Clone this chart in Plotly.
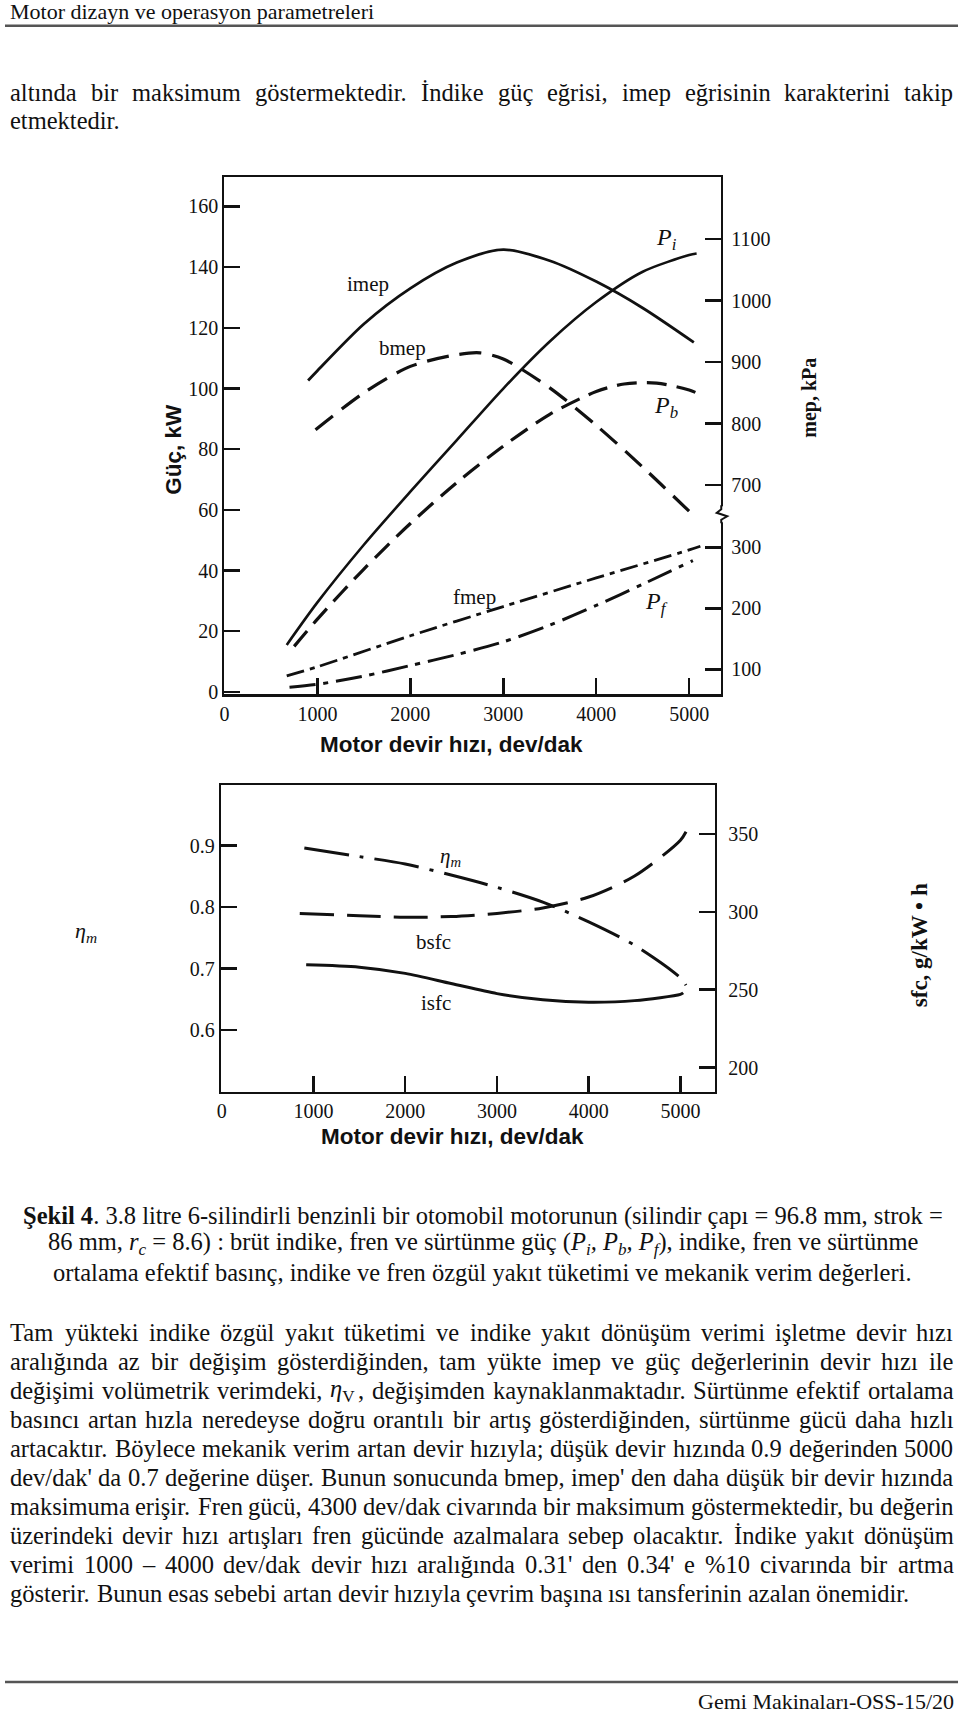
import plotly.graph_objects as go

# ---------------- data ----------------
rpm_Pi = [670, 1000, 1500, 2000, 2500, 3000, 3500, 4000, 4500, 5000, 5080]
Pi_kW = [15.5, 29.5, 48.5, 66, 83, 100, 115.5, 128.5, 138.5, 144, 144.5]

rpm_Pb = [750, 1000, 1500, 2000, 2500, 3000, 3500, 4000, 4300, 4650, 5000, 5100]
Pb_kW = [15, 24, 40.5, 55.5, 69, 81, 91.5, 99, 101.5, 101.8, 99.5, 98.3]

rpm_Pf = [700, 1000, 1500, 2000, 2500, 3000, 3500, 4000, 4500, 5040]
Pf_kW = [1.5, 2.5, 5.2, 8.7, 12.3, 16.5, 22, 28.5, 35.5, 43.3]

rpm_imep = [900, 1000, 1500, 2000, 2500, 3000, 3500, 4000, 4500, 5050]
imep_kPa = [870, 886, 962, 1020, 1062, 1083, 1065, 1031, 988, 932]

rpm_bmep = [980, 1500, 2000, 2500, 2750, 3000, 3500, 4000, 4500, 5035]
bmep_kPa = [790, 850, 893, 912, 915, 905, 858, 797, 729, 652]

rpm_fmep = [670, 1000, 2000, 3000, 4000, 5000, 5120]
fmep_kPa = [89, 104, 155, 203, 250, 296, 302]

rpm_eta = [900, 1500, 2000, 2500, 3000, 3500, 4000, 4500, 5000, 5060]
eta_m = [0.896, 0.882, 0.870, 0.852, 0.832, 0.808, 0.776, 0.738, 0.685, 0.673]

rpm_bsfc = [850, 1500, 2000, 2500, 3000, 3500, 4000, 4500, 5000, 5075]
bsfc = [299, 297.5, 296.5, 297, 299, 302.5, 309.5, 323, 346, 353]

rpm_isfc = [920, 1500, 2000, 2500, 3000, 3500, 4000, 4500, 5000, 5030]
isfc = [266, 264.5, 260.5, 254, 247.5, 243.5, 242, 243, 247, 248]

rpm_ticks = [0, 1000, 2000, 3000, 4000, 5000]
kW_ticks = [0, 20, 40, 60, 80, 100, 120, 140, 160]
mep_upper_ticks = [700, 800, 900, 1000, 1100]
mep_lower_ticks = [100, 200, 300]
eta_ticks = [0.6, 0.7, 0.8, 0.9]
sfc_ticks = [200, 250, 300, 350]

header_text = "Motor dizayn ve operasyon parametreleri"
footer_text = "Gemi Makinaları-OSS-15/20"
top_lines = [
    "altında bir maksimum göstermektedir. İndike güç eğrisi, imep eğrisinin karakterini takip",
    "etmektedir.",
]
caption_lines = [
    "<b>Şekil 4</b>. 3.8 litre 6-silindirli benzinli bir otomobil motorunun (silindir çapı = 96.8 mm, strok =",
    "86 mm, <i>r<sub>c</sub></i> = 8.6) : brüt indike, fren ve sürtünme güç (<i>P<sub>i</sub>, P<sub>b</sub>, P<sub>f</sub></i>), indike, fren ve sürtünme",
    "ortalama efektif basınç, indike ve fren özgül yakıt tüketimi ve mekanik verim değerleri.",
]
body_lines = [
    "Tam yükteki indike özgül yakıt tüketimi ve indike yakıt dönüşüm verimi işletme devir hızı",
    "aralığında az bir değişim gösterdiğinden, tam yükte imep ve güç değerlerinin devir hızı ile",
    "değişimi volümetrik verimdeki, ηV , değişimden kaynaklanmaktadır. Sürtünme efektif ortalama",
    "basıncı artan hızla neredeyse doğru orantılı bir artış gösterdiğinden, sürtünme gücü daha hızlı",
    "artacaktır. Böylece mekanik verim artan devir hızıyla; düşük devir hızında 0.9 değerinden 5000",
    "dev/dak' da 0.7 değerine düşer. Bunun sonucunda bmep, imep' den daha düşük bir devir hızında",
    "maksimuma erişir. Fren gücü, 4300 dev/dak civarında bir maksimum göstermektedir, bu değerin",
    "üzerindeki devir hızı artışları fren gücünde azalmalara sebep olacaktır. İndike yakıt dönüşüm",
    "verimi 1000 – 4000 dev/dak devir hızı aralığında 0.31' den 0.34' e %10 civarında bir artma",
    "gösterir. Bunun esas sebebi artan devir hızıyla çevrim başına ısı tansferinin azalan önemidir.",
]

# ---------------- page geometry helpers ----------------
W, H = 960, 1714
def fx(p):
    return p / W
def fy(p):
    return 1 - p / H

SERIF = "Liberation Serif"
SANS = "Liberation Sans"
BLACK = "#111111"

fig = go.Figure()

def line_trace(x, y, xa, ya, dash, width=3.0):
    fig.add_trace(go.Scatter(x=x, y=y, xaxis=xa, yaxis=ya, mode="lines",
                             line=dict(color=BLACK, width=width, dash=dash, shape="spline", smoothing=0.8),
                             hoverinfo="skip", showlegend=False))

# chart 1
line_trace(rpm_imep, imep_kPa, "x", "y2", "solid", 2.8)
line_trace(rpm_bmep, bmep_kPa, "x", "y2", "22px,11px", 3.2)
line_trace(rpm_Pi, Pi_kW, "x", "y", "solid", 2.6)
line_trace(rpm_Pb, Pb_kW, "x", "y", "20px,10px", 3.2)
line_trace(rpm_fmep, fmep_kPa, "x", "y3", "18px,6px,5px,6px", 2.8)
line_trace(rpm_Pf, Pf_kW, "x", "y", "26px,8px,5px,8px", 3.0)
# chart 2
line_trace(rpm_eta, eta_m, "x2", "y4", "45px,11px,4px,11px", 3.0)
line_trace(rpm_bsfc, bsfc, "x2", "y5", "34px,13px", 3.0)
line_trace(rpm_isfc, isfc, "x2", "y5", "solid", 3.0)

tickfont = dict(family=SERIF, size=20, color=BLACK)
common = dict(showgrid=False, zeroline=False, ticks="inside", ticklen=16, tickwidth=2.5,
              tickcolor=BLACK, tickfont=tickfont, linecolor=BLACK, linewidth=2.2)

# chart frames in page pixels
c1 = dict(l=220.6, r=720, t=178, b=698)
c2 = dict(l=217, r=714, t=789, b=1098)

fig.update_layout(
    width=W, height=H, margin=dict(l=0, r=0, t=0, b=0), autosize=False,
    paper_bgcolor="white", plot_bgcolor="white", showlegend=False,
    xaxis=dict(domain=[fx(c1["l"]), fx(c1["r"])], anchor="y", range=[0, 5345],
               tickvals=rpm_ticks, showline=True, mirror=True, **common),
    yaxis=dict(domain=[fy(c1["b"]), fy(c1["t"])], anchor="x", range=[-0.8, 169.7],
               tickvals=kW_ticks, showline=True, mirror=True, **common),
    yaxis2=dict(overlaying="y", side="right", anchor="x", range=[359.1, 1201.2],
                tickvals=mep_upper_ticks, showline=False, ticklabelstandoff=9, **common),
    yaxis3=dict(overlaying="y", side="right", anchor="x", range=[58.8, 908.5],
                tickvals=mep_lower_ticks, showline=False, ticklabelstandoff=9, **common),
    xaxis2=dict(domain=[fx(c2["l"]), fx(c2["r"])], anchor="y4", range=[-10, 5380],
                tickvals=rpm_ticks, showline=True, mirror=True, **common),
    yaxis4=dict(domain=[fy(c2["b"]), fy(c2["t"])], anchor="x2", range=[0.4993, 0.9985],
                tickvals=eta_ticks, tickformat=".1f", showline=True, mirror=True, **common),
    yaxis5=dict(overlaying="y4", side="right", anchor="x2", range=[184.2, 381.5],
                tickvals=sfc_ticks, showline=False, ticklabelstandoff=12, **common),
)

ann = []
TXT_DY = 6  # annotation middle sits a little above the visual centre of a text line
def text(x, y, s, size=20, family=SERIF, xanchor="center", angle=0, weight="normal", color=BLACK):
    ann.append(dict(x=fx(x), y=fy(y), xref="paper", yref="paper", text=s, showarrow=False,
                    xanchor=xanchor, yanchor="middle", textangle=angle,
                    font=dict(family=family, size=size, color=color, weight=weight)))

# chart 1 labels
text(365, 286, "imep", 21)
text(400, 350, "bmep", 21)
text(665, 240, "<i>P<sub>i</sub></i>", 24)
text(664, 409, "<i>P<sub>b</sub></i>", 24)
text(472, 600, "fmep", 21)
text(655, 606, "<i>P<sub>f</sub></i>", 24)
text(449, 748, "Motor devir hızı, dev/dak", 22.5, SANS, weight="bold")
text(170, 452, "Güç, kW", 22.5, SANS, angle=-90, weight="bold")
text(809, 400, "mep, kPa", 20, SERIF, angle=-90, weight="bold")
# chart 2 labels
text(448, 862, "<i>η<sub>m</sub></i>", 21)
text(431, 947, "bsfc", 21)
text(433, 1008, "isfc", 21)
text(81, 937, "<i>η<sub>m</sub></i>", 22)
text(919, 950, "sfc, g/kW • h", 23, SERIF, angle=-90, weight="bold")
text(450, 1142, "Motor devir hızı, dev/dak", 22.5, SANS, weight="bold")

# ---------------- page text ----------------
AFM = {' ': 250, 'a': 444, 'b': 500, 'c': 444, 'd': 500, 'e': 444, 'f': 333, 'g': 500, 'h': 500,
       'i': 278, 'j': 278, 'k': 500, 'l': 278, 'm': 778, 'n': 500, 'o': 500, 'p': 500, 'q': 500,
       'r': 333, 's': 389, 't': 278, 'u': 500, 'v': 500, 'w': 722, 'x': 500, 'y': 500, 'z': 444,
       'A': 722, 'B': 667, 'C': 667, 'D': 722, 'E': 611, 'F': 556, 'G': 722, 'H': 722, 'I': 333,
       'J': 389, 'K': 722, 'L': 611, 'M': 889, 'N': 722, 'O': 722, 'P': 556, 'Q': 722, 'R': 667,
       'S': 556, 'T': 611, 'U': 722, 'V': 722, 'W': 944, 'X': 722, 'Y': 722, 'Z': 611,
       'ı': 278, 'ş': 389, 'ğ': 500, 'ü': 500, 'ö': 500, 'ç': 444, 'İ': 333, 'Ş': 556,
       'Ö': 722, 'Ü': 722, 'Ç': 667, '.': 250, ',': 250, ';': 278, ':': 278, "'": 180,
       '-': 333, '–': 500, '/': 278, '(': 333, ')': 333, '=': 564, '%': 833}

def wwidth(word, size):
    if word == "ηV":
        return 0.85 * size
    return sum(AFM.get(ch, 500) for ch in word) * size / 1000.0

BODY = 24.5
def para_line(s, y, justify=True, left=5, right=953, size=BODY):
    words = s.split(" ")
    ws = [wwidth(w, size) for w in words]
    if justify and len(words) > 1:
        gap = (right - left - sum(ws)) / (len(words) - 1)
    else:
        gap = 0.25 * size
    x = left
    for w, wd in zip(words, ws):
        disp = "<i>η</i><sub>V</sub>" if w == "ηV" else w
        text(x - 2, y, disp, size, SERIF, xanchor="left")
        x += wd + gap

text(3, 12, header_text, 22, SERIF, xanchor="left")
text(956, 1704 + TXT_DY, footer_text, 22, SERIF, xanchor="right")

para_line(top_lines[0], 93, True)
para_line(top_lines[1], 121.5, False)

for i, s in enumerate(caption_lines):
    text(480, 1216 + TXT_DY + 28.4 * i, s, BODY, SERIF)

y0 = 1334 + TXT_DY
for i, s in enumerate(body_lines):
    para_line(s, y0 + 29.1 * i, justify=(i < len(body_lines) - 1))

fig.update_layout(annotations=ann)

# ---------------- shapes: page rules and axis break ----------------
shapes = [
    dict(type="line", xref="paper", yref="paper", x0=fx(0), x1=fx(958), y0=fy(26), y1=fy(26),
         line=dict(color="#555555", width=2.5)),
    dict(type="line", xref="paper", yref="paper", x0=fx(0), x1=fx(958), y0=fy(1691), y1=fy(1691),
         line=dict(color="#555555", width=2.5)),
    dict(type="rect", xref="paper", yref="paper", x0=fx(714), x1=fx(728), y0=fy(509), y1=fy(525),
         fillcolor="white", line=dict(width=0), layer="above"),
]
zz = [(720, 508), (720, 512), (715.5, 515.5), (726, 519), (720, 522.5), (720, 526)]
path = "M " + " L ".join(f"{fx(a):.5f},{fy(b):.5f}" for a, b in zz)
shapes.append(dict(type="path", xref="paper", yref="paper", path=path,
                   line=dict(color=BLACK, width=2), layer="above"))
fig.update_layout(shapes=shapes)

fig.write_html("out.html",
               config={"displayModeBar": False, "staticPlot": True},
               post_script="document.body.style.margin='0';document.body.style.padding='0';"
                           "document.body.style.overflow='hidden';")
